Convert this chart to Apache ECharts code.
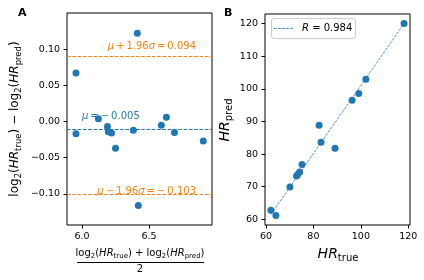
<!DOCTYPE html>
<html><head><meta charset="utf-8">
<script src="https://cdn.jsdelivr.net/npm/echarts@6/dist/echarts.min.js"></script>
<style>html,body{margin:0;padding:0;background:#fff}#c{width:424px;height:280px}</style>
</head><body><div id="c"></div>
<script>
// ---- Panel A (Bland-Altman) ----
const baMean = [5.955, 5.955, 6.122, 6.190, 6.196, 6.220, 6.250, 6.383, 6.413, 6.420, 6.592, 6.630, 6.690, 6.905];
const baDiff = [0.067, -0.017, 0.004, -0.007, -0.014, -0.016, -0.037, -0.012, 0.122, -0.116, -0.005, 0.006, -0.015, -0.027];
const meanDiff = -0.005;
const upperLoA = 0.094;
const lowerLoA = -0.103;
const aXTicks = [6.0, 6.5];
const aYTicks = [-0.10, -0.05, 0.00, 0.05, 0.10];
// ---- Panel B (HR true vs pred) ----
const hrTrue = [62.1, 64.2, 70.1, 72.9, 73.3, 74.2, 75.2, 83.2, 89.1, 82.4, 96.3, 99.1, 102.1, 118.2];
const hrPred = [62.8, 61.2, 69.9, 73.3, 73.7, 74.5, 76.8, 83.6, 81.8, 88.8, 96.5, 98.6, 102.9, 120.0];
const fitX = [62.1, 118.2];
const fitY = [61.5, 120.0];
const rValue = 0.984;
const bXTicks = [60, 80, 100, 120];
const bYTicks = [60, 70, 80, 90, 100, 110, 120];

const BLUE = '#1f77b4', ORANGE = '#ff7f0e';
const FF = 'DejaVu Sans';
const TS = '\u2009';
const fmtMinus = (v, d) => (v < -1e-9 ? '\u2212' : '') + Math.abs(v).toFixed(d);

function axisCommon(ticks, fmt) {
  return {
    type: 'value',
    axisLine: { show: false, onZero: false },
    axisTick: { show: true, customValues: ticks, length: 3.5, lineStyle: { color: '#000', width: 1 } },
    axisLabel: { customValues: ticks, formatter: fmt, color: '#000', fontSize: 9.5, fontFamily: FF, margin: 7 },
    splitLine: { show: false }
  };
}

function richMath(size, subSize, lh) {
  return {
    n: { fontSize: size, fontFamily: FF, color: '#000', lineHeight: lh, verticalAlign: 'middle' },
    i: { fontSize: size, fontFamily: FF, fontStyle: 'italic', color: '#000', lineHeight: lh, verticalAlign: 'middle' },
    s: { fontSize: subSize, fontFamily: FF, color: '#000', lineHeight: subSize + 1, verticalAlign: 'bottom' }
  };
}
function annot(color) {
  return { i: { fontStyle: 'italic', fontFamily: FF, fontSize: 10, fill: color } };
}

const chart = echarts.init(document.getElementById('c'), null, { renderer: 'canvas' });
chart.setOption({
  animation: false,
  backgroundColor: '#fff',
  grid: [
    { left: 67, top: 13, width: 145, height: 212, show: true, borderColor: '#000', borderWidth: 1, backgroundColor: 'transparent' },
    { left: 265, top: 14, width: 145, height: 211, show: true, borderColor: '#000', borderWidth: 1, backgroundColor: 'transparent' }
  ],
  xAxis: [
    Object.assign(axisCommon(aXTicks, v => v.toFixed(1)), { gridIndex: 0, min: 5.888, max: 6.97 }),
    Object.assign(axisCommon(bXTicks, v => String(v)), { gridIndex: 1, min: 59.6, max: 120.7 })
  ],
  yAxis: [
    Object.assign(axisCommon(aYTicks, v => fmtMinus(v, 2)), { gridIndex: 0, min: -0.143, max: 0.150 }),
    Object.assign(axisCommon(bYTicks, v => String(v)), { gridIndex: 1, min: 58.26, max: 122.94 })
  ],
  series: [
    {
      type: 'scatter', xAxisIndex: 0, yAxisIndex: 0, symbolSize: 7,
      itemStyle: { color: BLUE, opacity: 1 }, z: 5,
      data: baMean.map((m, i) => [m, baDiff[i]]),
      markLine: {
        silent: true, symbol: ['none', 'none'], animation: false,
        label: { show: false },
        lineStyle: { type: [3.7, 1.6], width: 1 },
        data: [
          { yAxis: upperLoA, lineStyle: { color: ORANGE, type: [3.7, 1.6], width: 1 } },
          { yAxis: meanDiff, lineStyle: { color: BLUE, type: [3.7, 1.6], width: 1 } },
          { yAxis: lowerLoA, lineStyle: { color: ORANGE, type: [3.7, 1.6], width: 1 } }
        ]
      }
    },
    {
      type: 'line', xAxisIndex: 1, yAxisIndex: 1, symbol: 'none', z: 3,
      lineStyle: { color: BLUE, width: 0.8, type: [2.8, 1.2] },
      data: fitX.map((x, i) => [x, fitY[i]])
    },
    {
      type: 'scatter', xAxisIndex: 1, yAxisIndex: 1, symbolSize: 7,
      itemStyle: { color: BLUE, opacity: 1 }, z: 5,
      data: hrTrue.map((t, i) => [t, hrPred[i]])
    }
  ],
  graphic: [
    { type: 'text', left: 18, top: 8, style: { text: 'A', fontSize: 11, fontWeight: 'bold', fontFamily: FF, fill: '#000' } },
    { type: 'text', left: 224, top: 8, style: { text: 'B', fontSize: 11, fontWeight: 'bold', fontFamily: FF, fill: '#000' } },
    // annotation texts panel A
    { type: 'text', x: 196, y: 46, z: 10, style: { text: '{i|\u03bc}' + TS + '+' + TS + '1.96{i|\u03c3}' + TS + '=' + TS + '0.094', align: 'right', verticalAlign: 'middle',
      rich: annot(ORANGE), fontFamily: FF, fontSize: 10, fill: ORANGE } },
    { type: 'text', x: 82, y: 116, z: 10, style: { text: '{i|\u03bc}' + TS + '=' + TS + '\u2212' + TS + '0.005', align: 'left', verticalAlign: 'middle',
      rich: annot(BLUE), fontFamily: FF, fontSize: 10, fill: BLUE } },
    { type: 'text', x: 196, y: 191, z: 10, style: { text: '{i|\u03bc}' + TS + '\u2212' + TS + '1.96{i|\u03c3}' + TS + '=' + TS + '\u2212' + TS + '0.103', align: 'right', verticalAlign: 'middle',
      rich: annot(ORANGE), fontFamily: FF, fontSize: 10, fill: ORANGE } },
    // y label panel A
    { type: 'text', x: 15, y: 119, rotation: Math.PI / 2, style: {
      text: '{n|log}{s|2}{n|(}{i|HR}{s|true}{n|) \u2212 log}{s|2}{n|(}{i|HR}{s|pred}{n|)}',
      align: 'center', verticalAlign: 'middle', rich: richMath(12, 8.5, 17) } },
    // x label panel A (fraction)
    { type: 'text', x: 140, y: 253, style: {
      text: '{n|log}{s|2}{n|(}{i|HR}{s|true}{n|) + log}{s|2}{n|(}{i|HR}{s|pred}{n|)}',
      align: 'center', verticalAlign: 'middle', rich: richMath(10, 7, 14) } },
    { type: 'line', shape: { x1: 77, y1: 262.5, x2: 204, y2: 262.5 }, style: { stroke: '#000', lineWidth: 1 } },
    { type: 'text', x: 140, y: 269, style: { text: '2', align: 'center', verticalAlign: 'middle', fontSize: 10, fontFamily: FF, fill: '#000' } },
    // labels panel B
    { type: 'text', x: 225, y: 120, rotation: Math.PI / 2, style: {
      text: '{i|HR}{s|pred}', align: 'center', verticalAlign: 'middle', rich: richMath(14, 10, 19) } },
    { type: 'text', x: 338, y: 254, style: {
      text: '{i|HR}{s|true}', align: 'center', verticalAlign: 'middle', rich: richMath(14, 10, 19) } },
    // legend panel B
    { type: 'rect', shape: { x: 271.5, y: 18.5, width: 84, height: 20, r: 2.5 }, style: { fill: 'rgba(255,255,255,0.8)', stroke: '#cccccc', lineWidth: 1 }, z: 20 },
    { type: 'line', shape: { x1: 274, y1: 28.5, x2: 294, y2: 28.5 }, style: { stroke: BLUE, lineWidth: 0.8, lineDash: [2.8, 1.2] }, z: 21 },
    { type: 'text', x: 302, y: 28.5, z: 21, style: { text: '{i|R} = ' + rValue.toFixed(3), align: 'left', verticalAlign: 'middle',
      fontFamily: FF, fontSize: 10, fill: '#000', rich: { i: { fontStyle: 'italic', fontFamily: FF, fontSize: 10, fill: '#000' } } } }
  ]
});
</script></body></html>
